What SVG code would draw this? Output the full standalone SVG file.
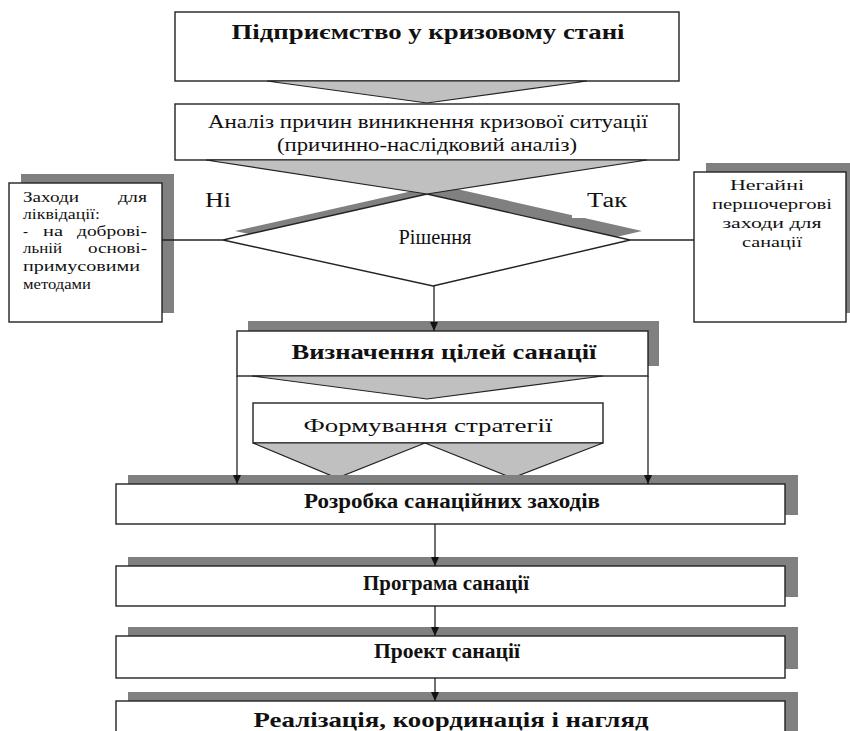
<svg xmlns="http://www.w3.org/2000/svg" width="850" height="731" viewBox="0 0 850 731">
<defs>
<marker id="arr" markerUnits="userSpaceOnUse" markerWidth="10" markerHeight="10" refX="9" refY="4" orient="auto">
<path d="M0,0 L9,4 L0,8 z" fill="#111"/>
</marker>
<style>
.box{fill:#fff;stroke:#222;stroke-width:1.4}
.sh{fill:#808080}
.fun{fill:#c0c0c0;stroke:#222;stroke-width:1.2}
.ln{fill:none;stroke:#222;stroke-width:1.3}
text{font-family:"Liberation Serif","Times New Roman",serif;fill:#111}
.b{font-weight:bold}
.c{text-anchor:middle}
.e{text-anchor:end}
.s{font-size:15px}
</style>
</defs>
<rect width="850" height="731" fill="#fff"/>

<g id="decision">
<polygon class="sh" points="235,231 439,185 642,231 445,277"/>
<polygon class="box" points="223,240 427,194 630,240 433,286"/>
<text x="435" y="244" class="c" font-size="21" textLength="73" lengthAdjust="spacingAndGlyphs">Рішення</text>
</g>

<g id="crisis">
<rect class="box" x="175" y="12" width="504" height="69"/>
<text x="428" y="39" class="b c" font-size="21" textLength="393" lengthAdjust="spacingAndGlyphs">Підприємство у кризовому стані</text>
</g>

<g id="analysis">
<polygon class="fun" points="267,81 587,81 427,103"/>
<rect class="box" x="175" y="104" width="504" height="56"/>
<polygon class="fun" points="206,160 647,160 427,194"/>
<text x="428" y="128" class="c" font-size="19" textLength="440" lengthAdjust="spacingAndGlyphs">Аналіз причин виникнення кризової ситуації</text>
<text x="427" y="151" class="c" font-size="19" textLength="300" lengthAdjust="spacingAndGlyphs">(причинно-наслідковий аналіз)</text>
</g>

<g id="liquidation">
<rect class="sh" x="21" y="174" width="153" height="139"/>
<rect class="box" x="9" y="183" width="153" height="139"/>
<g class="s">
<text x="23" y="202" textLength="56" lengthAdjust="spacingAndGlyphs">Заходи</text>
<text x="147" y="202" class="e" textLength="29" lengthAdjust="spacingAndGlyphs">для</text>
<text x="23" y="219" textLength="77" lengthAdjust="spacingAndGlyphs">ліквідації:</text>
<text x="23" y="236">-</text>
<text x="43" y="236" textLength="20" lengthAdjust="spacingAndGlyphs">на</text>
<text x="147" y="236" class="e" textLength="70" lengthAdjust="spacingAndGlyphs">доброві-</text>
<text x="23" y="253" textLength="39" lengthAdjust="spacingAndGlyphs">льній</text>
<text x="147" y="253" class="e" textLength="59" lengthAdjust="spacingAndGlyphs">основі-</text>
<text x="23" y="271" textLength="117" lengthAdjust="spacingAndGlyphs">примусовими</text>
<text x="23" y="289" textLength="68" lengthAdjust="spacingAndGlyphs">методами</text>
</g>
</g>

<g id="urgent">
<rect class="sh" x="706" y="163" width="152" height="150"/>
<rect class="box" x="694" y="172" width="152" height="150"/>
<g class="s c">
<text x="767" y="190" textLength="74" lengthAdjust="spacingAndGlyphs">Негайні</text>
<text x="772" y="209" textLength="120" lengthAdjust="spacingAndGlyphs">першочергові</text>
<text x="772" y="228" textLength="99" lengthAdjust="spacingAndGlyphs">заходи для</text>
<text x="772" y="247" textLength="60" lengthAdjust="spacingAndGlyphs">санації</text>
</g>
</g>

<g id="goals">
<rect class="sh" x="248" y="321" width="411" height="45"/>
<rect class="box" x="237" y="331" width="411" height="45"/>
<text x="444" y="359" class="b c" font-size="21" textLength="305" lengthAdjust="spacingAndGlyphs">Визначення цілей санації</text>
</g>

<g id="strategy">
<polygon class="fun" points="252,376 603,376 427,399"/>
<rect class="box" x="253" y="403" width="350" height="40"/>
<polygon class="fun" points="253,443 425,443 337,478"/>
<polygon class="fun" points="425,443 603,443 512,478"/>
<text x="428" y="432" class="c" font-size="19" textLength="249" lengthAdjust="spacingAndGlyphs">Формування стратегії</text>
</g>

<g id="measures">
<rect class="sh" x="128" y="475" width="670" height="40"/>
<rect class="box" x="116" y="484" width="669" height="40"/>
<text x="452" y="508" class="b c" font-size="20" textLength="296" lengthAdjust="spacingAndGlyphs">Розробка санаційних заходів</text>
</g>

<g id="program">
<rect class="sh" x="128" y="557" width="670" height="40"/>
<rect class="box" x="116" y="566" width="669" height="40"/>
<text x="446" y="590" class="b c" font-size="20" textLength="166" lengthAdjust="spacingAndGlyphs">Програма санації</text>
</g>

<g id="project">
<rect class="sh" x="128" y="627" width="670" height="42"/>
<rect class="box" x="116" y="636" width="669" height="42"/>
<text x="447" y="658" class="b c" font-size="20" textLength="146" lengthAdjust="spacingAndGlyphs">Проект санації</text>
</g>

<g id="implementation">
<rect class="sh" x="128" y="692" width="670" height="50"/>
<rect class="box" x="116" y="701" width="669" height="45"/>
<text x="451" y="727" class="b c" font-size="22" textLength="395" lengthAdjust="spacingAndGlyphs">Реалізація, координація і нагляд</text>
</g>

<g id="connectors">
<line class="ln" x1="162" y1="240" x2="223" y2="240"/>
<line class="ln" x1="630" y1="240" x2="694" y2="240"/>
<rect x="572" y="188" width="70" height="30" fill="#fff"/>
<text x="218" y="207" class="c" font-size="20" textLength="26" lengthAdjust="spacingAndGlyphs">Ні</text>
<text x="607" y="207" class="c" font-size="20" textLength="40" lengthAdjust="spacingAndGlyphs">Так</text>
<line class="ln" x1="434" y1="286" x2="434" y2="331" marker-end="url(#arr)"/>
<line class="ln" x1="237" y1="376" x2="237" y2="484" marker-end="url(#arr)"/>
<line class="ln" x1="648" y1="376" x2="648" y2="484" marker-end="url(#arr)"/>
<line class="ln" x1="435" y1="524" x2="435" y2="566" marker-end="url(#arr)"/>
<line class="ln" x1="435" y1="606" x2="435" y2="636" marker-end="url(#arr)"/>
<line class="ln" x1="435" y1="678" x2="435" y2="701" marker-end="url(#arr)"/>
</g>
</svg>
